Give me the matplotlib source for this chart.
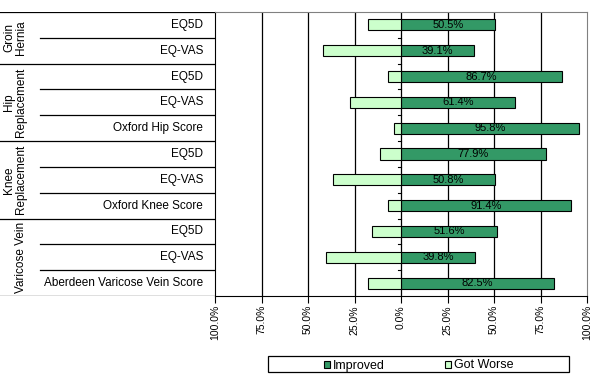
import numpy as np
import matplotlib
matplotlib.use('Agg')
from matplotlib import pyplot as plt
from matplotlib.patches import Rectangle

plt.rcParams['font.family'] = ['Liberation Sans', 'DejaVu Sans']

# data, top row first
groups = ['Groin\nHernia', 'Hip\nReplacement', 'Knee\nReplacement', 'Varicose Vein']
group_sizes = [2, 3, 3, 3]
measures = ['EQ5D', 'EQ-VAS',
            'EQ5D', 'EQ-VAS', 'Oxford Hip Score',
            'EQ5D', 'EQ-VAS', 'Oxford Knee Score',
            'EQ5D', 'EQ-VAS', 'Aberdeen Varicose Vein Score']
improved = [50.5, 39.1, 86.7, 61.4, 95.8, 77.9, 50.8, 91.4, 51.6, 39.8, 82.5]
got_worse = [17.9, 42.1, 7.2, 27.6, 4.0, 11.5, 36.7, 7.2, 15.8, 40.5, 17.9]
xticks = [-100, -75, -50, -25, 0, 25, 50, 75, 100]

W, H = 597, 380
fig = plt.figure(figsize=(W / 100, H / 100), dpi=100)

left, right, top, bottom = 215, 587, 12, 296
ax = fig.add_axes([left / W, 1 - bottom / H, (right - left) / W, (bottom - top) / H])
n = len(measures)
y = np.arange(n)

green = '#339966'
light = '#ccffcc'
bh = 0.43
ax.barh(y, improved, height=bh, color=green, edgecolor='black', linewidth=0.8, zorder=3)
ax.barh(y, [-v for v in got_worse], height=bh, color=light, edgecolor='black', linewidth=0.8, zorder=3)
for yi, v in zip(y, improved):
    ax.text(v / 2, yi, '%.1f%%' % v, ha='center', va='center', fontsize=8, zorder=4)

ax.set_xlim(-100, 100)
ax.set_ylim(n - 0.5, -0.5)
ax.set_xticks(xticks)
ax.set_xticklabels(['%.1f%%' % abs(t) for t in xticks], rotation=90, fontsize=7.5)
ax.tick_params(axis='x', direction='out', length=5, width=0.8, pad=1.5)
ax.set_yticks([])
for t in xticks[1:-1]:
    ax.axvline(t, color='black', linewidth=0.9, zorder=1)
# small ticks on the zero axis between rows
for b in np.arange(n - 1) + 0.5:
    ax.plot([-1.6, 0], [b, b], color='black', linewidth=0.8, zorder=2)
ax.spines['left'].set_color('black')
ax.spines['bottom'].set_color('black')
ax.spines['top'].set_color('#808080')
ax.spines['right'].set_color('#808080')

# category table on the left
tab = fig.add_axes([0, 1 - bottom / H, left / W, (bottom - top) / H])
tab.set_xlim(0, left)
tab.set_ylim(n - 0.5, -0.5)
tab.axis('off')
tab.plot([0, left], [-0.5, -0.5], color='black', linewidth=0.9)
tab.plot([0, left], [n - 0.5, n - 0.5], color='black', linewidth=0.9)
for yi, m in zip(y, measures):
    tab.text(203, yi, m, ha='right', va='center', fontsize=8.5)
start = 0
for g, s in zip(groups, group_sizes):
    tab.text(27, start + s / 2 - 0.5, g, rotation=90, ha='right', va='center',
             multialignment='center', fontsize=8.5, linespacing=1.0)
    for k in range(1, s):
        tab.plot([40, left], [start + k - 0.5, start + k - 0.5], color='black', linewidth=0.9)
    if start + s < n:
        tab.plot([0, left], [start + s - 0.5, start + s - 0.5], color='black', linewidth=0.9)
    start += s

# legend drawn by hand to match the wide box
fig.patches.append(Rectangle((268 / W, 1 - 372 / H), (569 - 268) / W, 16 / H,
                             transform=fig.transFigure, facecolor='white',
                             edgecolor='black', linewidth=0.9))
for x0, c, lab in [(324, green, 'Improved'), (445, light, 'Got Worse')]:
    fig.patches.append(Rectangle((x0 / W, 1 - 368 / H), 6 / W, 7 / H,
                                 transform=fig.transFigure, facecolor=c,
                                 edgecolor='black', linewidth=0.8))
    fig.text((x0 + 9) / W, 1 - 365.5 / H, lab, ha='left', va='center', fontsize=9)

fig.savefig('out.png', dpi=100)
